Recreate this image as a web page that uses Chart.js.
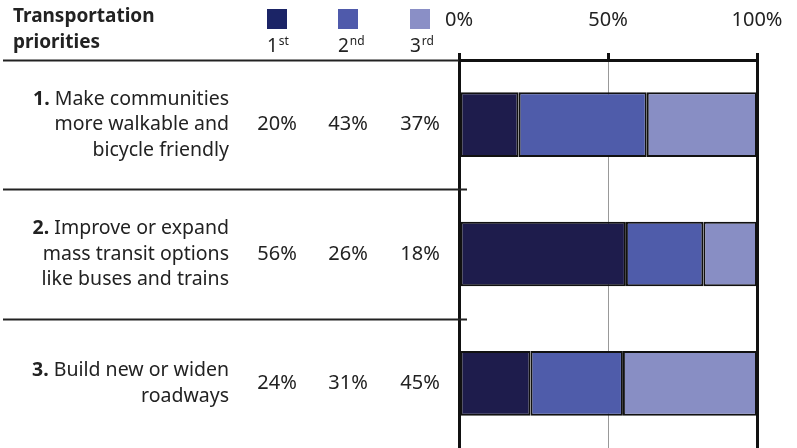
<!DOCTYPE html>
<html>
<head>
<meta charset="utf-8">
<script src="https://cdn.jsdelivr.net/npm/chart.js@4.4.0/dist/chart.umd.min.js"></script>
<style>
  html, body { margin: 0; padding: 0; background: #fff; }
  #wrap { width: 797px; height: 448px; }
</style>
</head>
<body>
<div id="wrap"><canvas id="chart" width="797" height="448"></canvas></div>
<script>
// data
const categories = ["1.", "2.", "3."];
const categoryText = [
  ["Make communities", "more walkable and", "bicycle friendly"],
  ["Improve or expand", "mass transit options", "like buses and trains"],
  ["Build new or widen", "roadways"]
];
const seriesNames = ["1", "2", "3"];
const seriesSuffix = ["st", "nd", "rd"];
const first = [20, 56, 24];
const second = [43, 26, 31];
const third = [37, 18, 45];
const xTicks = [0, 50, 100];
const title = ["Transportation", "priorities"];

const barColors = ["#1e1c4c", "#4f5caa", "#888ec4"];
const keyColors = ["#1b2466", "#4f5aab", "#8a8fc6"];
const FONT = "'Noto Sans', sans-serif";
const TXT = "#222";
const colX = [277, 348, 420];

// draws the table on the left, the header and the key
const tablePlugin = {
  id: "table",
  afterDraw(chart) {
    const ctx = chart.ctx;
    const y = chart.scales.y;
    const area = chart.chartArea;
    const all = [first, second, third];
    ctx.save();

    // header
    ctx.fillStyle = TXT;
    ctx.font = "bold 19px " + FONT;
    ctx.textAlign = "left";
    ctx.textBaseline = "middle";
    ctx.fillText(title[0], 13, 17);
    ctx.fillText(title[1], 13, 43);

    // key
    for (let i = 0; i < 3; i++) {
      ctx.fillStyle = keyColors[i];
      ctx.fillRect(colX[i] - 10, 9, 20, 20);
      ctx.fillStyle = TXT;
      ctx.font = "19px " + FONT;
      const w1 = ctx.measureText(seriesNames[i]).width;
      const x0 = colX[i] - 10;
      ctx.textBaseline = "alphabetic";
      ctx.fillText(seriesNames[i], x0, 52);
      ctx.font = "12px " + FONT;
      ctx.fillText(seriesSuffix[i], x0 + w1 + 1, 45);
    }

    // separators
    ctx.strokeStyle = "#222";
    ctx.lineWidth = 2;
    const bounds = [area.top];
    for (let i = 0; i < categories.length - 1; i++) {
      bounds.push((y.getPixelForValue(i) + y.getPixelForValue(i + 1)) / 2);
    }
    bounds.forEach((b, i) => {
      ctx.beginPath();
      ctx.moveTo(3, Math.round(b) + 0.5);
      ctx.lineTo(i === 0 ? area.left : area.left + 8, Math.round(b) + 0.5);
      ctx.stroke();
    });

    // row labels and values
    const lh = 25.5;
    categories.forEach((c, i) => {
      const cy = y.getPixelForValue(i);
      const lines = categoryText[i];
      const top = cy - (lines.length - 1) * lh / 2;
      ctx.textBaseline = "middle";
      ctx.textAlign = "right";
      lines.forEach((ln, k) => {
        ctx.font = "19.5px " + FONT;
        ctx.fillStyle = TXT;
        ctx.fillText(ln, 229, top + k * lh);
        if (k === 0) {
          const w = ctx.measureText(" " + ln).width;
          ctx.font = "bold 19.5px " + FONT;
          ctx.fillText(c, 229 - w, top);
        }
      });
      ctx.font = "20px " + FONT;
      ctx.textAlign = "center";
      for (let s = 0; s < 3; s++) {
        ctx.fillText(all[s][i] + "%", colX[s], cy);
      }
    });
    ctx.restore();
  }
};

const makeSet = (label, data, color) => ({
  label: label,
  data: data,
  backgroundColor: color,
  borderColor: "#111",
  borderWidth: 2,
  borderSkipped: false,
  barPercentage: 1,
  categoryPercentage: 0.5
});

new Chart(document.getElementById("chart"), {
  type: "bar",
  data: {
    labels: categories,
    datasets: [
      makeSet("1st", first, barColors[0]),
      makeSet("2nd", second, barColors[1]),
      makeSet("3rd", third, barColors[2])
    ]
  },
  options: {
    indexAxis: "y",
    responsive: false,
    animation: false,
    layout: { padding: { left: 459, right: 40, top: 0, bottom: 0 } },
    plugins: { legend: { display: false }, tooltip: { enabled: false } },
    scales: {
      x: {
        position: "top",
        stacked: true,
        min: 0,
        max: 100,
        afterBuildTicks: (s) => { s.ticks = xTicks.map(v => ({ value: v })); },
        afterFit: (s) => { s.height = 60; s.paddingLeft = 0; s.paddingRight = 0; },
        ticks: {
          color: TXT,
          font: { family: FONT, size: 20 },
          padding: 21,
          maxRotation: 0,
          callback: (v) => v + "%"
        },
        grid: {
          color: (c) => c.tick && c.tick.value === 50 ? "#999" : "#111",
          lineWidth: (c) => c.tick && c.tick.value === 50 ? 1 : 3,
          tickColor: "#111",
          tickWidth: 3,
          tickLength: 7
        },
        border: { display: true, color: "#111", width: 3 }
      },
      y: {
        stacked: true,
        display: false
      }
    }
  },
  plugins: [tablePlugin]
});
</script>
</body>
</html>
